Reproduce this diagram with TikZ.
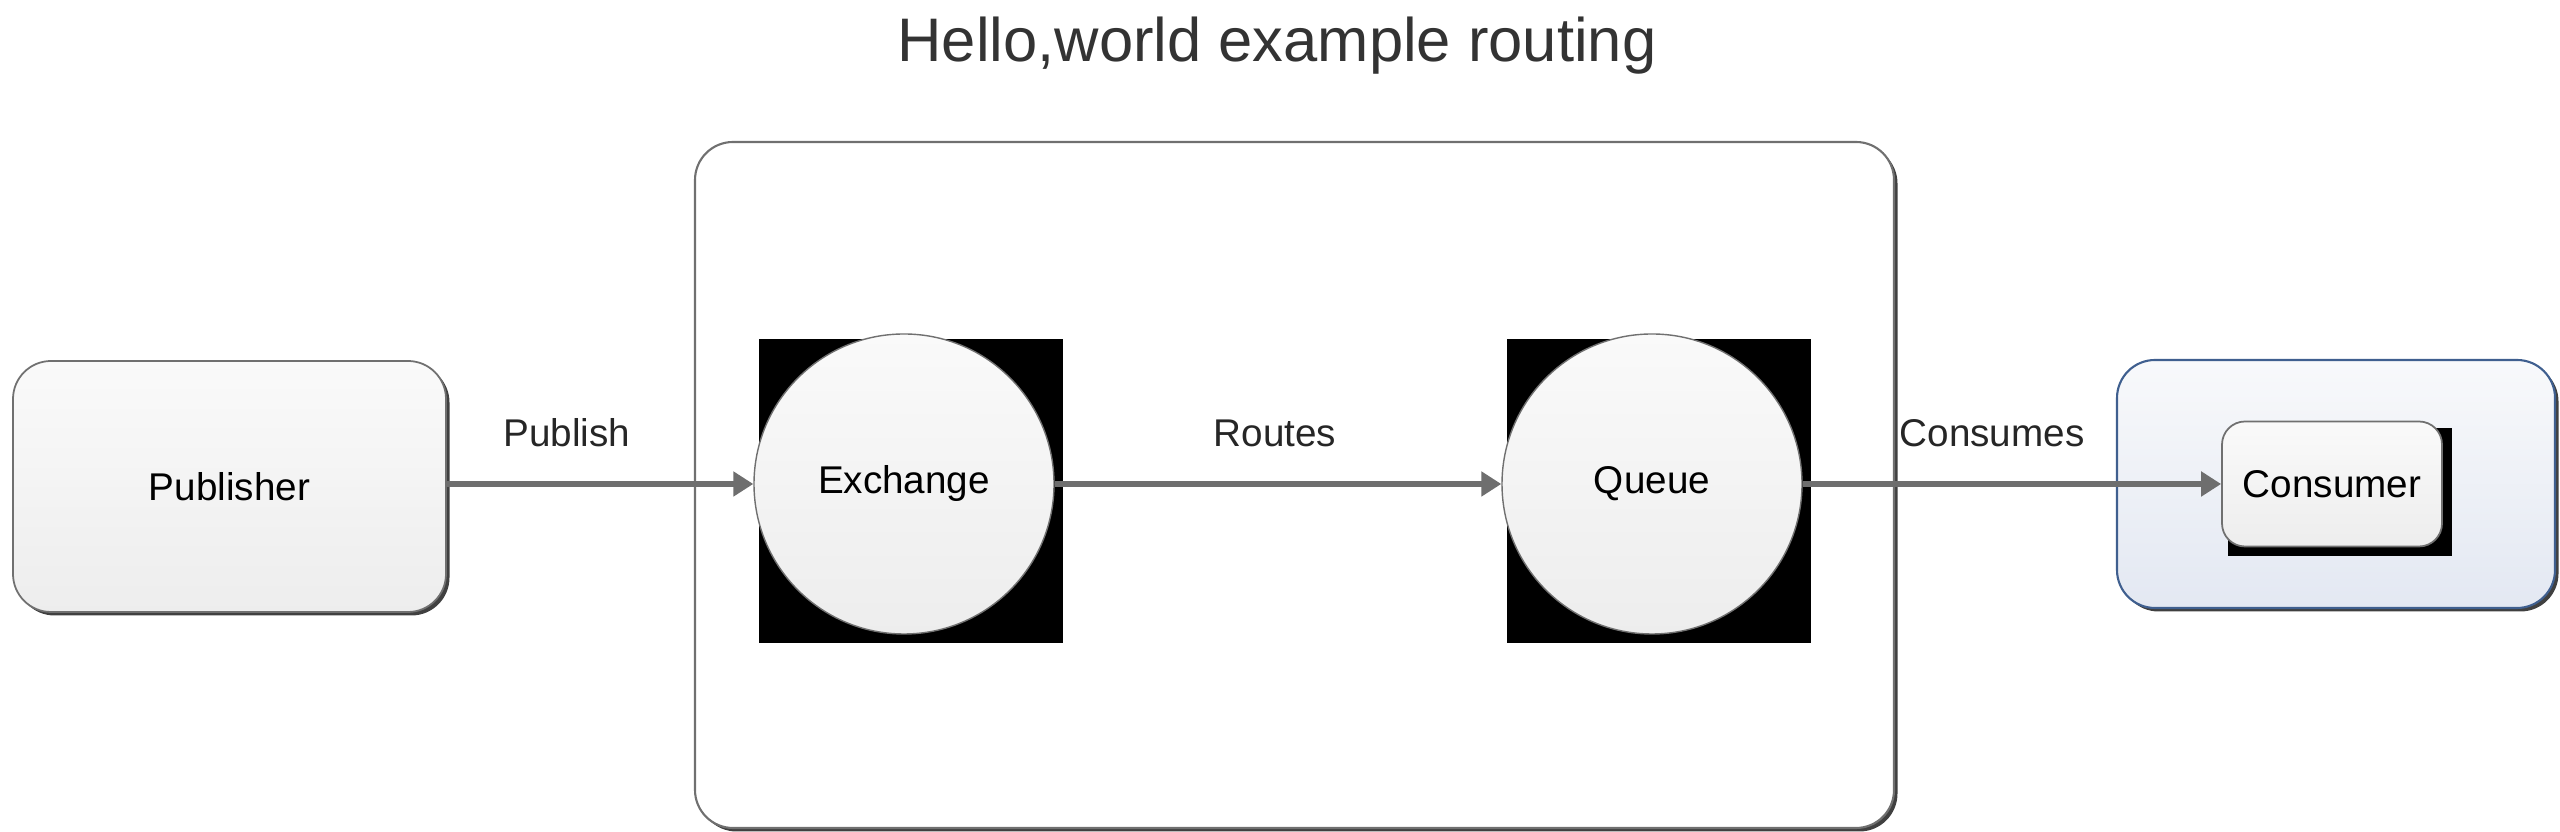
\documentclass[tikz,border=0pt]{standalone}
\usepackage{fontspec}
\setmainfont{Liberation Sans}
\usepackage{xcolor}
\usepackage{tikz}
\usetikzlibrary{arrows.meta, positioning}

\definecolor{edgegray}{HTML}{707070}
\definecolor{linegray}{HTML}{6E6E6E}
\definecolor{conblue}{HTML}{3F5F8F}
\definecolor{contop}{HTML}{F8F9FB}
\definecolor{conbot}{HTML}{E3E8F2}

\tikzset{
  shadowed/.style={preaction={fill=black!75, transform canvas={shift={(0.035,-0.035)}}}},
  entity/.style={draw=edgegray, line width=0.5pt, rounded corners=0.38cm, top color=black!2, bottom color=black!7, font=\fontsize{11}{13}\selectfont},
  blob/.style={circle, draw=edgegray, line width=0.4pt, top color=black!2, bottom color=black!7, minimum size=3cm, inner sep=0pt, font=\fontsize{11}{13}\selectfont},
  backsq/.style={fill=black, inner sep=0pt},
  flow/.style={draw=linegray, line width=1.7pt, -{Triangle[length=0.2cm, width=0.24cm]}},
  caption/.style={anchor=base, font=\fontsize{11}{13}\selectfont, text=black!85}
}

\begin{document}
\begin{tikzpicture}
\useasboundingbox (0,0) rectangle (25.6,8.32);
\node[anchor=base, font=\fontsize{17.5}{20}\selectfont, text=black!80] (title) at (12.77,7.70) {Hello,world example routing};
% broker
\node[shadowed, draw=edgegray, line width=0.6pt, fill=white, rounded corners=0.38cm, minimum width=11.99cm, minimum height=6.86cm] (broker) at (12.945,3.47) {};
\node[backsq, minimum size=3.04cm] (exsq) at (9.11,3.41) {};
\node[backsq, minimum size=3.04cm] (qusq) at (16.59,3.41) {};
\node[blob] (exch) at (9.04,3.48) {Exchange};
\node[blob] (queue) at (16.52,3.48) {Queue};
% clients
\node[entity, shadowed, minimum width=4.33cm, minimum height=2.51cm] (pub) at (2.295,3.455) {Publisher};
\node[shadowed, draw=conblue, line width=0.6pt, rounded corners=0.38cm, top color=contop, bottom color=conbot, minimum width=4.38cm, minimum height=2.48cm] (conbox) at (23.36,3.48) {};
\node[backsq, minimum width=2.24cm, minimum height=1.28cm] (consq) at (23.40,3.40) {};
\node[entity, rounded corners=0.23cm, minimum width=2.20cm, minimum height=1.25cm] (con) at (23.32,3.48) {Consumer};
% routing
\draw[flow] (pub.east |- exch.west) -- (exch.west);
\draw[flow] (exch.east) -- (queue.west);
\draw[flow] (queue.east) -- (con.west);
\node[caption] (publish) at (5.67,3.85) {Publish};
\node[caption] (routes) at (12.75,3.85) {Routes};
\node[caption] (consumes) at (19.92,3.85) {Consumes};
\end{tikzpicture}
\end{document}
